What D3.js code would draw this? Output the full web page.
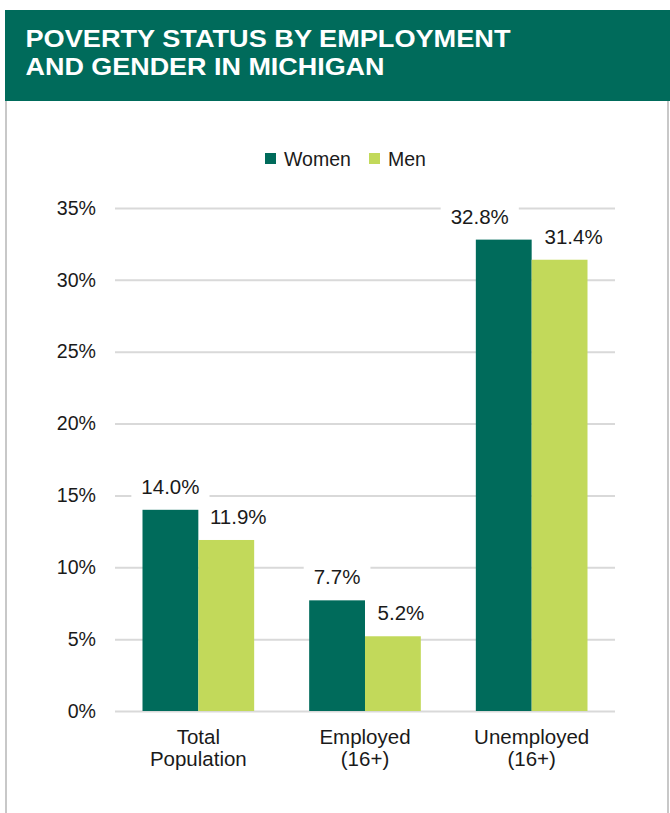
<!DOCTYPE html>
<html><head><meta charset="utf-8">
<script src="https://cdn.jsdelivr.net/npm/d3@7"></script>
<style>body{margin:0;background:#fff}svg{display:block;font-family:"Liberation Sans",Arial,sans-serif}</style>
</head><body>
<script>
const titleLines = ["POVERTY STATUS BY EMPLOYMENT", "AND GENDER IN MICHIGAN"];
const categories = [["Total", "Population"], ["Employed", "(16+)"], ["Unemployed", "(16+)"]];
const seriesNames = ["Women", "Men"];
const women = [14.0, 7.7, 32.8];
const men = [11.9, 5.2, 31.4];
const yTicks = [0, 5, 10, 15, 20, 25, 30, 35];

const colors = {Women: "#006b5b", Men: "#c2d95a"};
const labelShift = {Women: [0, 0, -24], Men: [12, 8, 14]};
const titleWidths = [485, 359];

const W = 670, H = 813;
const svg = d3.select("body").append("svg").attr("width", W).attr("height", H);

// header
svg.append("rect").attr("x", 5).attr("y", 10).attr("width", W - 5).attr("height", 91).attr("fill", "#006b5b");
titleLines.forEach((t, i) => {
  svg.append("text").attr("x", 25.5).attr("y", 46.7 + i * 28.3).attr("fill", "#fff")
    .attr("font-weight", "bold").attr("font-size", 23.5).attr("textLength", titleWidths[i])
    .attr("lengthAdjust", "spacingAndGlyphs").text(t);
});
// border
svg.append("line").attr("x1", 6).attr("x2", 6).attr("y1", 101).attr("y2", H).attr("stroke", "#c8c8c8").attr("stroke-width", 2);
svg.append("line").attr("x1", 668).attr("x2", 668).attr("y1", 101).attr("y2", H).attr("stroke", "#c8c8c8").attr("stroke-width", 2);

const x0 = d3.scaleBand().domain(d3.range(categories.length)).range([115, 615]).paddingInner(0).paddingOuter(0);
const x1 = d3.scaleBand().domain(seriesNames).range([27.5, x0.bandwidth() - 27.5]).paddingInner(0).paddingOuter(0);
const y = d3.scaleLinear().domain([0, 35]).range([711, 208]);

// grid
const yAxis = d3.axisLeft(y).tickValues(yTicks).tickFormat(d => d + "%").tickSize(-500).tickPadding(19);
const ga = svg.append("g").attr("transform", "translate(115,0)").call(yAxis);
ga.select(".domain").remove();
ga.selectAll(".tick line").attr("stroke", "#d9d9d9").attr("stroke-width", 2);
ga.selectAll(".tick text").attr("font-size", 19.6).attr("fill", "#1a1a1a").attr("font-family", "Liberation Sans, Arial, sans-serif");

const data = [];
categories.forEach((c, i) => {
  data.push({i, s: "Women", v: women[i]});
  data.push({i, s: "Men", v: men[i]});
});

svg.append("g").selectAll("rect").data(data).join("rect")
  .attr("x", d => x0(d.i) + x1(d.s)).attr("width", x1.bandwidth())
  .attr("y", d => y(d.v)).attr("height", d => y(0) - y(d.v))
  .attr("fill", d => colors[d.s]);

// labels with white background
const lg = svg.append("g");
data.forEach(d => {
  const cx = x0(d.i) + x1(d.s) + x1.bandwidth() / 2 + labelShift[d.s][d.i];
  const by = y(d.v) - 16;
  const g = lg.append("g");
  const bg = g.append("rect").attr("fill", "#fff");
  const t = g.append("text").attr("x", cx).attr("y", by).attr("text-anchor", "middle")
    .attr("font-size", 20.5).attr("fill", "#1a1a1a").text(d.v.toFixed(1) + "%");
  const bb = t.node().getBBox();
  bg.attr("x", bb.x - 10).attr("y", bb.y - 3).attr("width", bb.width + 20).attr("height", bb.height + 6);
});

// category labels
categories.forEach((c, i) => {
  c.forEach((line, j) => {
    svg.append("text").attr("x", x0(i) + x0.bandwidth() / 2).attr("y", 743.5 + j * 22.5)
      .attr("text-anchor", "middle").attr("font-size", 20.5).attr("fill", "#1a1a1a").text(line);
  });
});

// legend
const legendItems = [{s: "Women", x: 265}, {s: "Men", x: 369}];
legendItems.forEach(l => {
  svg.append("rect").attr("x", l.x).attr("y", 153).attr("width", 11).attr("height", 11).attr("fill", colors[l.s]);
  svg.append("text").attr("x", l.x + 19).attr("y", 165.5).attr("font-size", 19.5).attr("fill", "#1a1a1a").text(l.s);
});
</script>
</body></html>
